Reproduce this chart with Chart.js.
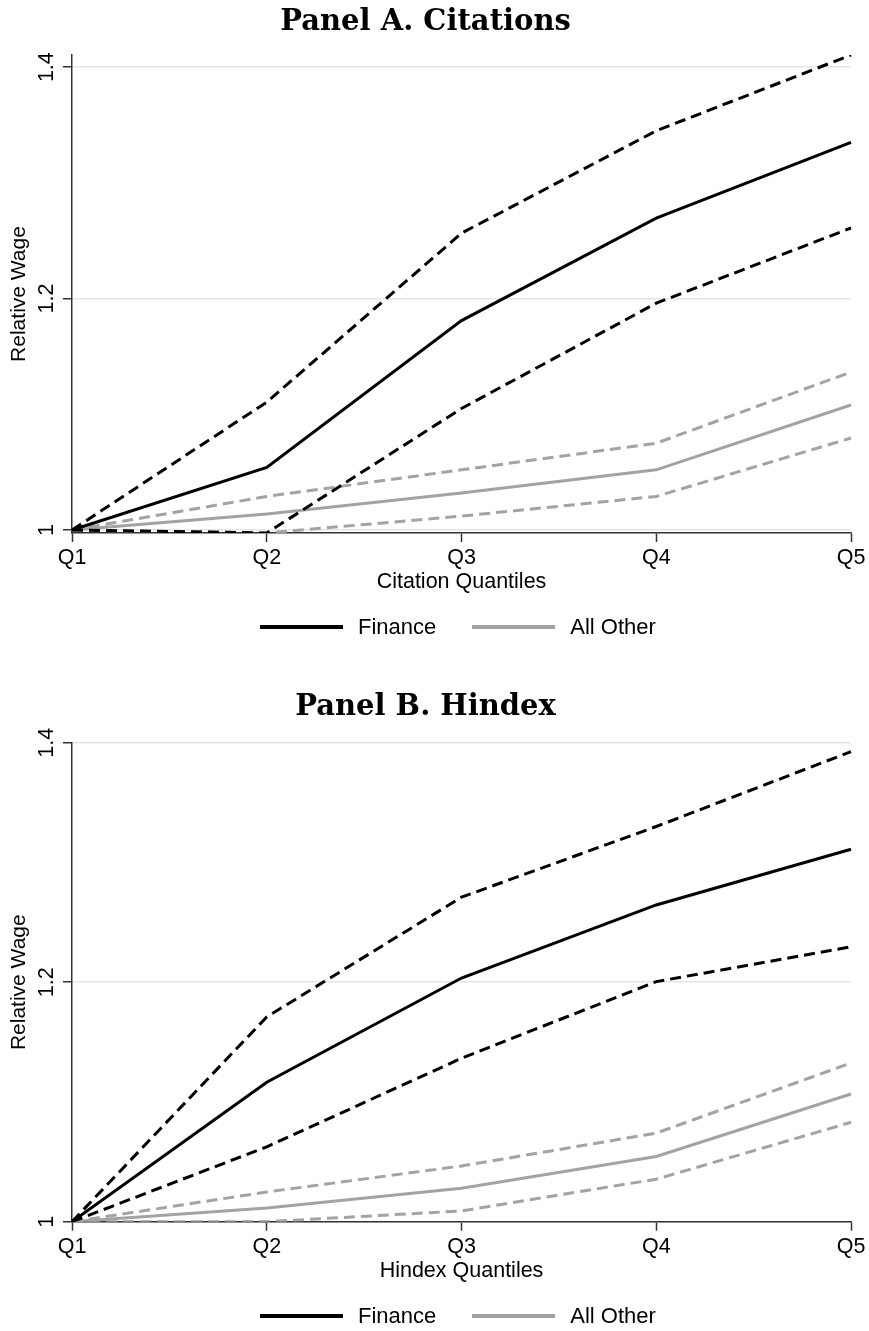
<!DOCTYPE html>
<html>
<head>
<meta charset="utf-8">
<script src="https://cdn.jsdelivr.net/npm/chart.js@4.4.1/dist/chart.umd.min.js"></script>
<style>
  html, body { margin: 0; padding: 0; background: #fff; }
  .panel { position: relative; width: 869px; }
  #panel-a { height: 660px; }
  #panel-b { height: 671px; }
  .legend { position: absolute; left: 260px; height: 26px; display: flex; align-items: center;
            font-family: "Liberation Sans", Arial, sans-serif; font-size: 22px; color: #000; }
  .legend .swatch { display: inline-block; width: 83px; height: 3.5px; margin-right: 15px; }
  .legend .item { display: flex; align-items: center; margin-right: 36px; }
</style>
</head>
<body>
<div class="panel" id="panel-a"><canvas id="chart-a"></canvas><div class="legend" id="legend-a" style="top:614px"></div></div>
<div class="panel" id="panel-b"><canvas id="chart-b"></canvas><div class="legend" id="legend-b" style="top:643px"></div></div>
<script>
// categories and tick labels
const quantiles = ['Q1', 'Q2', 'Q3', 'Q4', 'Q5'];
const yTicks = [1, 1.2, 1.4];
const yTickLabels = ['1', '1.2', '1.4'];
const seriesNames = ['Finance', 'All Other'];

// Panel A: citations (point estimate, upper / lower band)
const citFinance   = [1, 1.054, 1.181, 1.2695, 1.335];
const citFinanceHi = [1, 1.1105, 1.2565, 1.345, 1.4105];
const citFinanceLo = [1, 0.9974, 1.105, 1.196, 1.261];
const citOther     = [1, 1.0138, 1.032, 1.052, 1.108];
const citOtherHi   = [1, 1.029, 1.052, 1.075, 1.1365];
const citOtherLo   = [1, 0.9974, 1.012, 1.029, 1.0795];

// Panel B: hindex
const hixFinance   = [1, 1.1165, 1.2035, 1.2645, 1.311];
const hixFinanceHi = [1, 1.171, 1.271, 1.330, 1.3925];
const hixFinanceLo = [1, 1.0625, 1.1365, 1.2005, 1.2295];
const hixOther     = [1, 1.0114, 1.028, 1.0545, 1.1066];
const hixOtherHi   = [1, 1.0248, 1.0465, 1.074, 1.1325];
const hixOtherLo   = [1, 1.0, 1.009, 1.0355, 1.083];

const BLACK = '#000000';
const GREY = '#a3a3a3';
const AXIS = '#333333';
const sans = 'Liberation Sans, Arial, sans-serif';

function line(label, data, color, dashed) {
  return { label, data, borderColor: color, backgroundColor: color, borderWidth: 3,
    borderDash: dashed ? [11, 6] : [], pointRadius: 0, pointHoverRadius: 0, tension: 0, fill: false };
}

function buildLegend(id) {
  const el = document.getElementById(id);
  el.innerHTML = seriesNames.map((n, i) =>
    `<span class="item"><span class="swatch" style="background:${i === 0 ? BLACK : GREY}"></span>${n}</span>`
  ).join('');
}

function makePanel(canvasId, cfg) {
  new Chart(document.getElementById(canvasId), {
    type: 'line',
    data: {
      labels: quantiles,
      datasets: [
        line('Finance', cfg.fin, BLACK, false),
        line('Finance upper', cfg.finHi, BLACK, true),
        line('Finance lower', cfg.finLo, BLACK, true),
        line('All Other', cfg.oth, GREY, false),
        line('All Other upper', cfg.othHi, GREY, true),
        line('All Other lower', cfg.othLo, GREY, true)
      ]
    },
    options: {
      responsive: true, maintainAspectRatio: false, animation: false,
      devicePixelRatio: 1,
      layout: { padding: { left: 0, right: 18, top: 0, bottom: cfg.padBottom } },
      plugins: {
        legend: { display: false },
        tooltip: { enabled: false },
        title: { display: true, text: cfg.title, color: '#000',
          font: { family: 'DejaVu Serif', size: 29, weight: 'bold' },
          padding: { top: cfg.titleTop, bottom: cfg.titleBottom } }
      },
      scales: {
        x: {
          offset: false,
          grid: { drawOnChartArea: false, drawTicks: true, tickLength: 9, tickColor: AXIS, tickWidth: 1.5 },
          border: { color: AXIS, width: 1.5 },
          ticks: { color: '#000', font: { family: sans, size: 21.5 }, padding: 3, maxRotation: 0, autoSkip: false },
          title: { display: true, text: cfg.xTitle, color: '#000', font: { family: sans, size: 21.5 }, padding: 0 },
          afterFit: s => { s.height = 62; }
        },
        y: {
          min: cfg.yMin, max: cfg.yMax,
          afterBuildTicks: s => { s.ticks = yTicks.map(v => ({ value: v })); },
          afterFit: s => { s.width = 72; },
          grid: { color: '#e6e6e6', lineWidth: 1.5, drawTicks: true, tickLength: 9, tickColor: AXIS, tickWidth: 1.5 },
          border: { color: AXIS, width: 1.5 },
          ticks: { color: '#000', font: { family: sans, size: 21.5 }, padding: 1,
            minRotation: 90, maxRotation: 90, crossAlign: 'center',
            callback: (v, i) => yTickLabels[i] },
          title: { display: true, text: 'Relative Wage', color: '#000', font: { family: sans, size: 21 },
            padding: { top: 7, bottom: 0 } }
        }
      }
    }
  });
}

makePanel('chart-a', {
  title: 'Panel A. Citations', xTitle: 'Citation Quantiles',
  fin: citFinance, finHi: citFinanceHi, finLo: citFinanceLo,
  oth: citOther, othHi: citOtherHi, othLo: citOtherLo,
  yMin: 0.9974, yMax: 1.4105, titleTop: 4.6, titleBottom: 15.6, padBottom: 65
});
makePanel('chart-b', {
  title: 'Panel B. Hindex', xTitle: 'Hindex Quantiles',
  fin: hixFinance, finHi: hixFinanceHi, finLo: hixFinanceLo,
  oth: hixOther, othHi: hixOtherHi, othLo: hixOtherLo,
  yMin: 1, yMax: 1.4, titleTop: 29.6, titleBottom: 18.3, padBottom: 47.3
});
buildLegend('legend-a');
buildLegend('legend-b');
</script>
</body>
</html>
